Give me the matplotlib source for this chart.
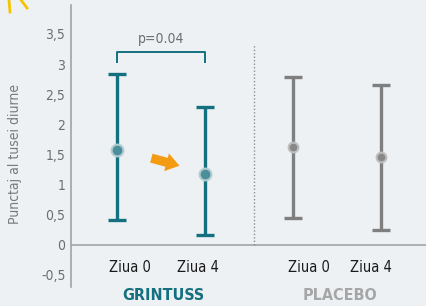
import matplotlib
matplotlib.use("Agg")
import matplotlib.pyplot as plt
from matplotlib.lines import Line2D
from matplotlib.patches import FancyArrowPatch

# data
groups = ["GRINTUSS", "PLACEBO"]
days = ["Ziua 0", "Ziua 4", "Ziua 0", "Ziua 4"]
means = [1.58, 1.17, 1.62, 1.45]
upper = [2.84, 2.28, 2.79, 2.66]
lower = [0.41, 0.17, 0.45, 0.25]
yticks = [-0.5, 0, 0.5, 1, 1.5, 2, 2.5, 3, 3.5]
ytick_labels = ["-0,5", "0", "0,5", "1", "1,5", "2", "2,5", "3", "3,5"]
p_text = "p=0.04"

plt.rcParams['font.family'] = ['DejaVu Sans']
plt.rcParams['font.stretch'] = 'condensed'

BG = "#edf1f4"
TEAL = "#14707f"
TEAL_M = "#4b8f9b"
GRAY = "#7f7f7f"

fig = plt.figure(figsize=(4.27, 3.06), dpi=100, facecolor=BG)
ax = fig.add_axes([71/427, 19/306, 356/427, 282/306], facecolor=BG)

xs = list(range(len(means)))
for i, x in enumerate(xs):
    c = TEAL if i < 2 else GRAY
    mfc = TEAL_M if i < 2 else "#888888"
    mec = "#b3ccd1" if i < 2 else "#bdbdbd"
    ax.errorbar([x], [means[i]], yerr=[[means[i] - lower[i]], [upper[i] - means[i]]],
                fmt='none', ecolor=c, elinewidth=2.4, capsize=6.5, capthick=2.4, zorder=2)
    ax.plot([x], [means[i]], 'o', ms=8.5 if i < 2 else 7, mfc=mfc, mec=mec, mew=1.5, zorder=3)

ax.set_xlim(-0.523, 3.523)
ax.set_ylim(-0.70, 3.98)

ax.axhline(0, color="#a7abae", lw=1.3, zorder=1)
ax.plot([1.56, 1.56], [0, 3.32], ls=(0, (1, 1.5)), color="#8a8f94", lw=1, zorder=1)

# significance bracket
ax.plot([0, 0, 1, 1], [3.04, 3.2, 3.2, 3.04], color=TEAL, lw=1.4)
ax.text(0.5, 3.3, p_text, ha='center', va='bottom', fontsize=10, color="#6e6e6e")

# orange arrow
arr = FancyArrowPatch((0.36, 1.45), (0.74, 1.30),
                      arrowstyle="simple,head_width=1.1,head_length=0.8,tail_width=0.55",
                      mutation_scale=12, color="#f39c12", lw=0, zorder=4)
ax.add_patch(arr)

ax.set_yticks(yticks)
ax.set_yticklabels(ytick_labels, fontsize=10, color="#6e6e6e")
ax.tick_params(axis='y', length=0, pad=4)
ax.set_xticks([])

label_x = [0.15, 0.92, 2.18, 2.89]
for i in range(len(days)):
    ax.text(label_x[i], -0.37, days[i], ha='center', va='center', fontsize=10.5, color="#1a1a1a")

for s in ["top", "right", "bottom"]:
    ax.spines[s].set_visible(False)
ax.spines["left"].set_color("#a0a4a8")
ax.spines["left"].set_linewidth(1.2)

ax.text(0.53, -0.84, groups[0], ha='center', va='center', fontsize=11.5, fontweight='bold', color=TEAL, clip_on=False)
ax.text(2.53, -0.84, groups[1], ha='center', va='center', fontsize=11.5, fontweight='bold', color="#a6a6a6", clip_on=False)

fig.text(15/427, 1 - 154/306, "Punctaj al tusei diurne", rotation=90, ha='center', va='center',
         fontsize=10, color="#7a7a7a")

# decorative yellow strokes top-left
fig.add_artist(Line2D([9/427, 10/427], [1 - 0/306, 1 - 12/306], color="#f5c400", lw=2))
fig.add_artist(Line2D([21/427, 27/427], [1 - 0/306, 1 - 8/306], color="#f5c400", lw=2))

fig.savefig("out.png", dpi=100, facecolor=BG)
